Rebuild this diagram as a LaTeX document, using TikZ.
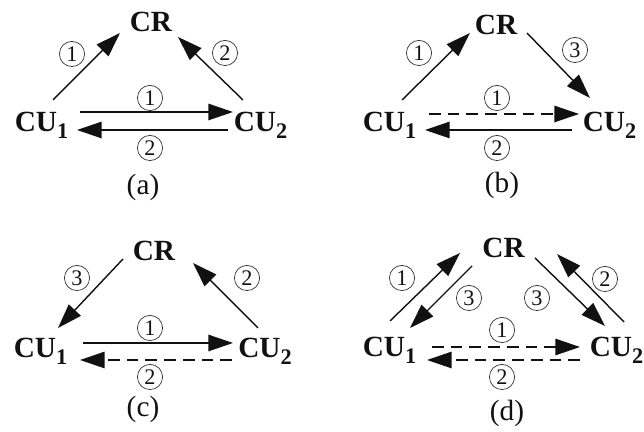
\documentclass[tikz,border=0pt]{standalone}
\usepackage{fontspec}
\setmainfont{Liberation Serif}
\usetikzlibrary{arrows.meta}
\definecolor{ink}{HTML}{111111}
\newcommand\subidx[1]{\raisebox{-0.22em}{\fontsize{19}{19}\selectfont #1}}
\tikzset{
  unit/.style={inner sep=0pt,anchor=base,text=ink,font=\fontsize{25}{25}\selectfont\bfseries},
  seq/.style={circle,draw=black!80,line width=0.6pt,inner sep=0pt,minimum size=21.5pt,
    text=ink,font=\fontsize{19}{19}\selectfont},
  panellbl/.style={text=ink,font=\fontsize{25}{25}\selectfont},
  ar/.style={-{Triangle[length=21pt,width=14pt]},line width=1.2pt,draw=ink},
  ard/.style={ar,dash pattern=on 10pt off 6pt},
}
\begin{document}
\begin{tikzpicture}[x=0.03cm,y=0.03cm]
  \useasboundingbox (0,0) rectangle (644,432);
  % (a)
  \node[unit] (a-cr) at (151,400) {CR};
  \node[unit] (a-cu1) at (41.5,300) {CU\subidx{1}};
  \node[unit] (a-cu2) at (260.5,300) {CU\subidx{2}};
  \draw[ar] ([shift={(11.5,32)}]a-cu1.base) -- ([shift={(-31,-1)}]a-cr.base);
  \draw[ar] ([shift={(-17.5,32)}]a-cu2.base) -- ([shift={(27,-5)}]a-cr.base);
  \draw[ar] ([shift={(38.5,20)}]a-cu1.base) -- ([shift={(-27.5,20)}]a-cu2.base);
  \draw[ar] ([shift={(-32.5,2)}]a-cu2.base) -- ([shift={(35.5,2)}]a-cu1.base);
  \node[seq] (a-s1) at (72,378) {1};
  \node[seq] (a-s2) at (225,379) {2};
  \node[seq] (a-h1) at (150,334) {1};
  \node[seq] (a-h2) at (150,284) {2};
  \node[panellbl] (a-lbl) at (143,245) {(a)};
  % (b)
  \node[unit] (b-cr) at (496,397) {CR};
  \node[unit] (b-cu1) at (389.5,300) {CU\subidx{1}};
  \node[unit] (b-cu2) at (609.5,300) {CU\subidx{2}};
  \draw[ar] ([shift={(12.5,32)}]b-cu1.base) -- ([shift={(-26,2)}]b-cr.base);
  \draw[ar] ([shift={(31,2)}]b-cr.base) -- ([shift={(-19.5,34)}]b-cu2.base);
  \draw[ard] ([shift={(39.5,18)}]b-cu1.base) -- ([shift={(-30.5,18)}]b-cu2.base);
  \draw[ar] ([shift={(-37.5,2)}]b-cu2.base) -- ([shift={(35.5,2)}]b-cu1.base);
  \node[seq] (b-s1) at (419,379) {1};
  \node[seq] (b-s3) at (575,382) {3};
  \node[seq] (b-h1) at (497,334) {1};
  \node[seq] (b-h2) at (497,284) {2};
  \node[panellbl] (b-lbl) at (502,247) {(b)};
  % (c)
  \node[unit] (c-cr) at (154,171) {CR};
  \node[unit] (c-cu1) at (40.5,74) {CU\subidx{1}};
  \node[unit] (c-cu2) at (265,74) {CU\subidx{2}};
  \draw[ar] ([shift={(-31,2)}]c-cr.base) -- ([shift={(17.5,30)}]c-cu1.base);
  \draw[ar] ([shift={(-7,30)}]c-cu2.base) -- ([shift={(39,-2)}]c-cr.base);
  \draw[ar] ([shift={(42.5,15)}]c-cu1.base) -- ([shift={(-32,15)}]c-cu2.base);
  \draw[ard] ([shift={(-33,-2)}]c-cu2.base) -- ([shift={(39.5,-2)}]c-cu1.base);
  \node[seq] (c-s3) at (77,154) {3};
  \node[seq] (c-s2) at (247,154) {2};
  \node[seq] (c-h1) at (150,104) {1};
  \node[seq] (c-h2) at (150,55) {2};
  \node[panellbl] (c-lbl) at (143,23) {(c)};
  % (d)
  \node[unit] (d-cr) at (503.5,174) {CR};
  \node[unit] (d-cu1) at (389.5,75) {CU\subidx{1}};
  \node[unit] (d-cu2) at (616.5,75) {CU\subidx{2}};
  \draw[ar] ([shift={(0.5,36)}]d-cu1.base) -- ([shift={(-43.5,5)}]d-cr.base);
  \draw[ar] ([shift={(-31.5,-8)}]d-cr.base) -- ([shift={(20.5,29)}]d-cu1.base);
  \draw[ar] ([shift={(31.5,0)}]d-cr.base) -- ([shift={(-11.5,31)}]d-cu2.base);
  \draw[ar] ([shift={(7.5,35)}]d-cu2.base) -- ([shift={(53.5,4)}]d-cr.base);
  \draw[ard] ([shift={(42.5,10)}]d-cu1.base) -- ([shift={(-36.5,10)}]d-cu2.base);
  \draw[ard] ([shift={(-36.5,-3)}]d-cu2.base) -- ([shift={(37.5,-3)}]d-cu1.base);
  \node[seq] (d-s1) at (402,154) {1};
  \node[seq] (d-s3) at (469,134) {3};
  \node[seq] (d-t3) at (537,134) {3};
  \node[seq] (d-s2) at (605,153) {2};
  \node[seq] (d-h1) at (502,102) {1};
  \node[seq] (d-h2) at (502,55) {2};
  \node[panellbl] (d-lbl) at (507,19) {(d)};
\end{tikzpicture}
\end{document}
